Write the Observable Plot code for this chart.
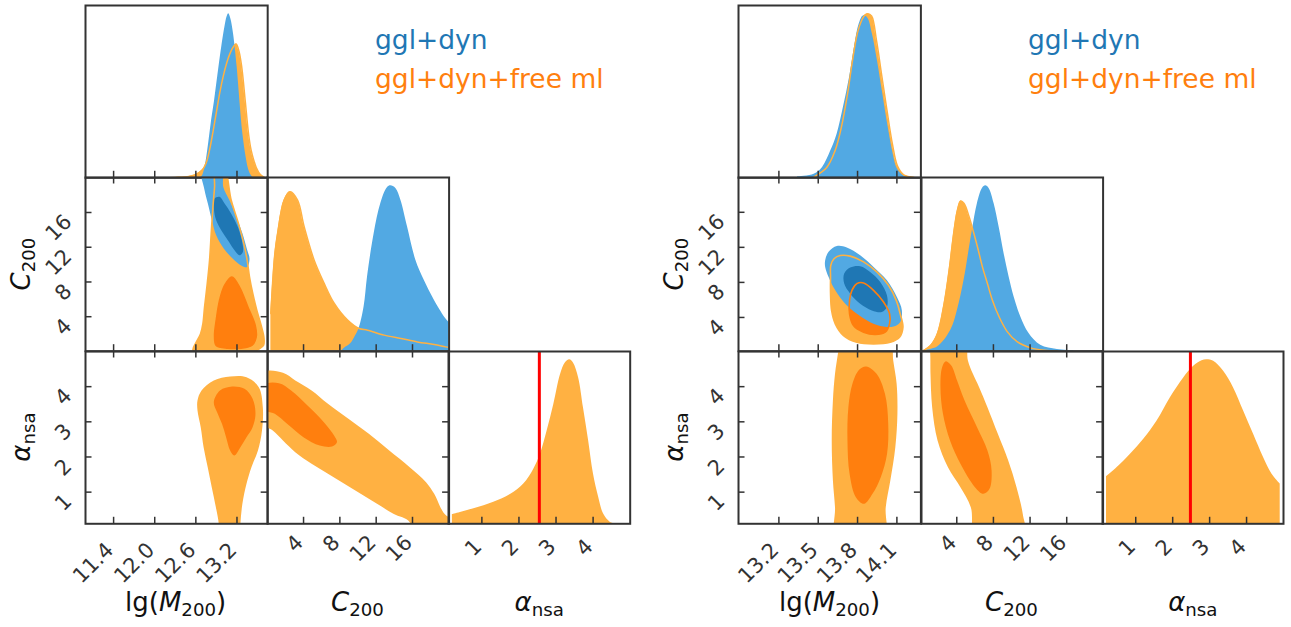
<!DOCTYPE html>
<html><head><meta charset="utf-8">
<script src="https://cdn.jsdelivr.net/npm/d3@7"></script>
<script src="https://cdn.jsdelivr.net/npm/@observablehq/plot@0.6"></script>
<style>
body{margin:0;background:#fff;font-family:"DejaVu Sans",sans-serif}
#root{position:relative;width:1291px;height:627px;overflow:hidden;background:#fff}
.panel{position:absolute}
.lbl{position:absolute;white-space:nowrap;font-size:26px;line-height:1;color:#111}
.lbl sub{font-size:70%;vertical-align:-0.28em;line-height:0}
.leg{position:absolute;white-space:nowrap;font-size:26.5px;line-height:1}
</style></head><body><div id="root"></div>
<script>
// ---------------- tick values ----------------
const L_lgmTicks = [11.4, 12.0, 12.6, 13.2];
const R_lgmTicks = [13.2, 13.5, 13.8, 14.1];
const cTicks = [4, 8, 12, 16];
const aTicks = [1, 2, 3, 4];
const L_alphaTrue = [2.55];
const R_alphaTrue = [2.48];
const legendLabels = ["ggl+dyn", "ggl+dyn+free ml"];

// ---------------- LEFT corner: 1D marginals ----------------
const L_lgm_blue = [[12.66,0],[12.693,0.01],[12.72,0.04],[12.751,0.104],[12.79,0.22],[12.83,0.35],[12.873,0.47],[12.92,0.62],[12.97,0.775],[13.0,0.86],[13.028,0.928],[13.055,0.98],[13.08,1.0],[13.11,0.97],[13.15,0.877],[13.203,0.673],[13.242,0.47],[13.286,0.267],[13.334,0.124],[13.37,0.05],[13.397,0.022],[13.43,0.003]];
const L_lgm_orange = [[12.10,0],[12.30,0.002],[12.50,0.008],[12.60,0.02],[12.70,0.05],[12.75,0.09],[12.80,0.17],[12.85,0.28],[12.90,0.40],[12.95,0.52],[13.00,0.62],[13.05,0.70],[13.10,0.76],[13.15,0.80],[13.188,0.816],[13.23,0.77],[13.27,0.673],[13.32,0.47],[13.369,0.267],[13.408,0.165],[13.45,0.10],[13.481,0.063],[13.54,0.02],[13.60,0.002]];
const L_c_blue = [[8.2,0],[8.47,0.016],[9.21,0.046],[9.7,0.09],[10.12,0.137],[10.67,0.268],[11.05,0.45],[11.78,0.712],[12.51,0.893],[13.25,0.99],[13.61,1.0],[14.17,0.984],[14.72,0.913],[15.45,0.752],[16.37,0.55],[17.28,0.43],[18.39,0.31],[19.78,0.188],[20.3,0.16]];
const L_c_orange = [[0.40,0.228],[0.59,0.41],[0.84,0.59],[1.14,0.712],[1.86,0.913],[2.52,0.964],[3.34,0.913],[4.07,0.752],[5.17,0.55],[6.27,0.41],[7.37,0.29],[8.85,0.188],[10.12,0.137],[11.05,0.127],[12.88,0.097],[14.72,0.077],[16.55,0.056],[18.39,0.04],[19.67,0.026],[20.3,0.02]];
const L_a_orange = [[0.204,0.055],[0.785,0.091],[1.32,0.131],[1.77,0.178],[2.13,0.242],[2.40,0.333],[2.58,0.424],[2.76,0.565],[2.94,0.727],[3.12,0.909],[3.25,0.98],[3.37,1.0],[3.47,0.98],[3.61,0.889],[3.74,0.707],[3.88,0.505],[4.01,0.303],[4.15,0.161],[4.28,0.061],[4.46,0.01],[4.59,0]];

// ---------------- LEFT corner: 2D contours ----------------
const L_lc_o95 = [[12.885,21.5],[13.0,21.5],[13.116,17.41],[13.222,14.72],[13.300,12.41],[13.349,10.49],[13.383,8.57],[13.431,6.65],[13.49,4.72],[13.553,2.99],[13.592,1.65],[13.587,0.69],[13.504,0.19],[13.45,-0.5],[12.6,-0.5],[12.557,0.19],[12.606,1.07],[12.669,2.03],[12.703,3.19],[12.727,5.11],[12.766,7.79],[12.8,10.49],[12.824,13.57],[12.849,16.64],[12.873,18.95]];
const L_lc_o68 = [[13.125,8.57],[13.237,7.41],[13.359,5.11],[13.466,2.99],[13.48,1.65],[13.417,0.69],[13.261,0.38],[13.067,0.38],[12.897,0.69],[12.873,1.84],[12.897,3.57],[12.946,5.88],[13.019,7.61]];
const L_lc_b95 = [[12.678,21.5],[12.98,21.5],[13.0,18.95],[13.09,17.41],[13.19,15.49],[13.28,13.57],[13.35,11.64],[13.383,10.68],[13.349,9.72],[13.261,9.91],[13.14,10.68],[13.009,11.83],[12.897,13.37],[12.834,15.1],[12.775,17.03],[12.727,18.57]];
const L_lc_b68 = [[12.873,17.6],[12.946,17.8],[13.019,17.03],[13.116,15.87],[13.213,14.33],[13.271,12.8],[13.286,11.45],[13.237,11.07],[13.164,11.64],[13.067,12.8],[12.97,13.95],[12.897,15.1],[12.863,16.45]];
const L_la_o95 = [[12.624,3.607],[12.683,3.891],[12.862,4.175],[13.1,4.289],[13.339,4.27],[13.518,3.986],[13.577,3.417],[13.565,2.753],[13.506,2.185],[13.411,1.71],[13.339,1.237],[13.279,0.668],[13.25,0.099],[13.244,-0.4],[12.934,-0.4],[12.934,0.099],[12.892,0.573],[12.832,1.142],[12.773,1.71],[12.713,2.28],[12.671,2.848],[12.624,3.322]];
const L_la_o68 = [[12.862,3.559],[12.952,3.891],[13.13,4.005],[13.309,3.938],[13.428,3.654],[13.47,3.227],[13.428,2.848],[13.339,2.564],[13.25,2.28],[13.16,2.042],[13.1,2.185],[13.041,2.564],[12.981,2.943],[12.91,3.275]];
const L_ca_o95 = [[-0.5,4.393],[1.733,4.393],[3.084,4.175],[4.885,3.891],[6.687,3.512],[8.939,3.085],[11.19,2.659],[13.44,2.185],[15.69,1.71],[17.49,1.284],[18.39,0.952],[19.07,0.573],[19.52,0.383],[20.3,0.19],[20.3,-0.4],[15.92,-0.4],[15.69,0.146],[13.89,0.383],[12.09,0.668],[10.29,0.952],[8.488,1.237],[6.687,1.521],[4.885,1.806],[3.084,2.137],[1.733,2.469],[0.608,2.753],[-0.5,2.943]];
const L_ca_o68 = [[-0.5,4.033],[1.283,4.099],[2.634,3.891],[4.435,3.464],[6.236,2.99],[7.362,2.611],[7.677,2.422],[7.137,2.298],[5.786,2.327],[3.985,2.564],[2.184,2.943],[0.833,3.227],[-0.5,3.37]];

// ---------------- RIGHT corner: 1D marginals ----------------
const R_lgm_blue = [[13.343,0.006],[13.469,0.022],[13.533,0.063],[13.596,0.164],[13.644,0.266],[13.692,0.428],[13.739,0.611],[13.78,0.813],[13.812,0.935],[13.844,0.986],[13.876,0.976],[13.914,0.874],[13.952,0.712],[13.993,0.509],[14.034,0.306],[14.072,0.144],[14.104,0.053],[14.152,0.012],[14.215,0.002]];
const R_lgm_orange = [[13.469,0.006],[13.565,0.063],[13.628,0.164],[13.676,0.306],[13.723,0.509],[13.761,0.712],[13.803,0.895],[13.85,0.986],[13.876,1.0],[13.907,0.986],[13.945,0.834],[13.983,0.631],[14.025,0.408],[14.066,0.205],[14.104,0.073],[14.152,0.018],[14.231,0.002]];
const R_c_blue = [[0.438,0.006],[1.892,0.026],[3.346,0.127],[4.073,0.248],[4.8,0.43],[5.345,0.611],[5.71,0.732],[6.255,0.893],[6.8,0.984],[7.162,1.0],[7.526,0.984],[8.071,0.893],[8.616,0.752],[9.162,0.591],[9.707,0.45],[10.252,0.329],[10.979,0.208],[11.888,0.107],[13.16,0.036],[14.977,0.01],[16.79,0.002]];
const R_c_orange = [[0.256,0.0],[1.165,0.036],[1.892,0.107],[2.619,0.288],[3.164,0.49],[3.709,0.732],[4.073,0.853],[4.436,0.908],[4.8,0.893],[5.345,0.813],[5.817,0.722],[6.255,0.631],[6.8,0.51],[7.344,0.409],[7.889,0.308],[8.616,0.208],[9.525,0.117],[10.616,0.056],[12.07,0.02],[13.524,0.006],[14.977,0.002]];
const R_a_orange = [[0.208,0.287],[0.497,0.343],[0.857,0.424],[1.217,0.515],[1.578,0.626],[1.938,0.768],[2.298,0.889],[2.569,0.96],[2.794,0.994],[2.929,1.0],[3.109,0.99],[3.379,0.929],[3.649,0.828],[3.92,0.687],[4.19,0.545],[4.46,0.404],[4.686,0.303],[4.911,0.242]];

// ---------------- RIGHT corner: 2D contours ----------------
const R_lc_o95 = [[13.596,9.963],[13.622,10.727],[13.668,11.071],[13.744,10.995],[13.846,10.345],[13.947,9.198],[14.036,7.669],[14.095,5.948],[14.125,4.419],[14.146,2.89],[14.12,1.743],[14.049,1.17],[13.922,0.979],[13.795,1.17],[13.693,1.934],[13.63,3.272],[13.602,4.801],[13.594,6.713],[13.594,8.624]];
const R_lc_o68 = [[13.757,7.095],[13.795,7.86],[13.846,7.936],[13.922,7.095],[13.998,5.757],[14.044,4.419],[14.044,3.272],[14.011,2.316],[13.935,2.048],[13.846,2.316],[13.769,3.081],[13.739,4.419],[13.739,5.948]];
const R_lc_b95 = [[13.553,10.536],[13.579,11.49],[13.642,12.141],[13.718,11.988],[13.82,11.109],[13.922,9.771],[14.024,8.242],[14.1,6.33],[14.138,4.801],[14.125,3.463],[14.074,2.966],[13.998,2.966],[13.896,3.463],[13.795,4.419],[13.706,5.566],[13.63,7.095],[13.579,8.624],[13.553,9.771]];
const R_lc_b68 = [[13.698,9.006],[13.744,9.694],[13.82,9.848],[13.896,9.198],[13.973,8.051],[14.024,6.522],[14.024,5.184],[13.985,4.61],[13.909,4.801],[13.82,5.566],[13.744,6.713],[13.698,7.86]];
const R_la_o95 = [[13.676,5.6],[13.653,5.01],[13.628,4.365],[13.612,3.607],[13.603,2.469],[13.612,1.332],[13.628,0.573],[13.638,-0.4],[14.003,-0.4],[14.015,0.573],[14.05,1.332],[14.088,2.28],[14.104,3.227],[14.098,4.081],[14.072,4.744],[14.04,5.6]];
const R_la_o68 = [[13.866,4.574],[13.945,4.365],[14.009,3.796],[14.034,2.943],[14.025,2.09],[13.977,1.426],[13.914,0.952],[13.85,0.668],[13.787,0.857],[13.739,1.521],[13.723,2.469],[13.73,3.417],[13.761,4.081],[13.812,4.479]];
const R_ca_o95 = [[0.767,5.6],[1.085,5.01],[1.13,4.365],[1.312,3.417],[1.902,2.469],[3.036,1.71],[4.397,1.142],[5.531,0.573],[6.121,-0.4],[11.43,-0.4],[11.2,0.383],[10.52,1.142],[9.614,1.9],[8.48,2.659],[7.346,3.417],[6.438,3.985],[5.758,4.365],[5.214,4.744],[4.76,5.6]];
const R_ca_o68 = [[2.808,4.725],[3.398,4.602],[4.033,4.175],[4.85,3.607],[6.211,2.848],[7.346,2.185],[7.799,1.616],[7.573,1.094],[6.893,0.952],[5.985,1.142],[4.397,1.806],[3.263,2.469],[2.491,3.227],[2.219,3.985],[2.4,4.555]];

// ---------------- styling & layout ----------------
const LO = "#ffb142", DO = "#ff7f0e", LB = "#52a9e3", DB = "#1f77b4", AX = "#333";
const ROWS = [5, 177.3, 351, 523.3];
const TL = 6.5;
const TFS = 21;
const DIAG_DOM = [0, 1.05];
const root = document.getElementById("root");

function panel(left, top, width, height, xd, yd, marks) {
  const p = Plot.plot({
    width, height, margin: 0,
    x: {domain: xd, axis: null}, y: {domain: yd, axis: null},
    style: {overflow: "visible", background: "transparent", fontFamily: "DejaVu Sans"},
    marks
  });
  const d = document.createElement("div");
  d.className = "panel"; d.style.left = left + "px"; d.style.top = top + "px";
  d.appendChild(p); root.appendChild(d);
}
const X = d => d[0], Y = d => d[1];
const poly = (data, fill) => Plot.line(data, {x: X, y: Y, curve: "catmull-rom-closed", fill, stroke: "none", clip: true});
const outline = (data, stroke) => Plot.line(data, {x: X, y: Y, curve: "catmull-rom-closed", stroke, strokeWidth: 1.6, clip: true});
const dens = (data, fill) => Plot.areaY(data, {x: X, y: Y, fill, curve: "catmull-rom", clip: true});
const densLine = (data, stroke) => Plot.line(data, {x: X, y: Y, stroke, strokeWidth: 1.5, curve: "catmull-rom", clip: true});
const frame = () => Plot.frame({stroke: AX, strokeWidth: 2});
const tb = (t, h) => Plot.tickX(t, {x: d => d, stroke: AX, strokeWidth: 1.5, insetTop: h - TL});
const tt = (t, h) => Plot.tickX(t, {x: d => d, stroke: AX, strokeWidth: 1.5, insetBottom: h - TL});
const tl = (t, w) => Plot.tickY(t, {y: d => d, stroke: AX, strokeWidth: 1.5, insetRight: w - TL});
const tr = (t, w) => Plot.tickY(t, {y: d => d, stroke: AX, strokeWidth: 1.5, insetLeft: w - TL});
const xLab = (t, dy, fmt) => Plot.text(t, {x: d => d, text: fmt, frameAnchor: "bottom", dx: 1, dy, rotate: -45, textAnchor: "end", lineAnchor: "bottom", fontSize: TFS, fill: AX});
const yLab = (t) => Plot.text(t, {y: d => d, text: d => String(d), frameAnchor: "left", dx: -12.5, dy: 10.5, rotate: -45, textAnchor: "end", lineAnchor: "bottom", fontSize: TFS, fill: AX});

function corner(c) {
  const W = i => c.cols[i + 1] - c.cols[i], H = i => ROWS[i + 1] - ROWS[i];
  const f1 = d => d.toFixed(1), f0 = d => String(d);
  panel(c.cols[0], ROWS[0], W(0), H(0), c.lgmDom, DIAG_DOM, [
    dens(c.lgmO, LO), dens(c.lgmB, LB), densLine(c.lgmO, LO), frame(), tb(c.lgmTicks, H(0))]);
  panel(c.cols[0], ROWS[1], W(0), H(1), c.lgmDom, c.cDom, [
    poly(c.lc[0], LO), poly(c.lc[1], DO), poly(c.lc[2], LB), poly(c.lc[3], DB),
    outline(c.lc[0], LO), outline(c.lc[1], DO), frame(),
    tb(c.lgmTicks, H(1)), tt(c.lgmTicks, H(1)), tl(cTicks, W(0)), tr(cTicks, W(0)), yLab(cTicks)]);
  panel(c.cols[1], ROWS[1], W(1), H(1), c.cDom, DIAG_DOM, [
    dens(c.cO, LO), dens(c.cB, LB), densLine(c.cO, LO), frame(), tb(cTicks, H(1))]);
  panel(c.cols[0], ROWS[2], W(0), H(2), c.lgmDom, c.aDom, [
    poly(c.la[0], LO), poly(c.la[1], DO), frame(),
    tb(c.lgmTicks, H(2)), tt(c.lgmTicks, H(2)), tl(aTicks, W(0)), tr(aTicks, W(0)),
    yLab(aTicks), xLab(c.lgmTicks, 27.5, f1)]);
  panel(c.cols[1], ROWS[2], W(1), H(2), c.cDom, c.aDom, [
    poly(c.ca[0], LO), poly(c.ca[1], DO), frame(),
    tb(cTicks, H(2)), tt(cTicks, H(2)), tr(aTicks, W(1)), xLab(cTicks, 20, f0)]);
  panel(c.cols[2], ROWS[2], W(2), H(2), c.aDom, DIAG_DOM, [
    dens(c.aO, LO), Plot.ruleX(c.aTrue, {stroke: "#ff0000", strokeWidth: 3}), frame(),
    tb(aTicks, H(2)), xLab(aTicks, 24, f0)]);
}

corner({cols: [84.5, 266.7, 448.3, 630], lgmDom: [10.99, 13.648], cDom: [0.03, 20.03], aDom: [0.1, 5.0],
  lgmTicks: L_lgmTicks, lgmB: L_lgm_blue, lgmO: L_lgm_orange, cB: L_c_blue, cO: L_c_orange, aO: L_a_orange,
  lc: [L_lc_o95, L_lc_o68, L_lc_b95, L_lc_b68], la: [L_la_o95, L_la_o68], ca: [L_ca_o95, L_ca_o68], aTrue: L_alphaTrue});
corner({cols: [738.3, 920.7, 1102.3, 1283.3], lgmDom: [12.892, 14.283], cDom: [0.15, 19.97], aDom: [0.1, 5.0],
  lgmTicks: R_lgmTicks, lgmB: R_lgm_blue, lgmO: R_lgm_orange, cB: R_c_blue, cO: R_c_orange, aO: R_a_orange,
  lc: [R_lc_o95, R_lc_o68, R_lc_b95, R_lc_b68], la: [R_la_o95, R_la_o68], ca: [R_ca_o95, R_ca_o68], aTrue: R_alphaTrue});

// ---------------- axis labels & legends (HTML text) ----------------
const LBL_LGM = 'lg(<i>M</i><sub>200</sub>)', LBL_C = '<i>C</i><sub>200</sub>', LBL_A = '<i>α</i><sub>nsa</sub>';
function addLabel(html, x, y, rot) {
  const d = document.createElement("div");
  d.className = "lbl"; d.innerHTML = html;
  d.style.left = x + "px"; d.style.top = y + "px";
  d.style.transform = rot ? "translate(-50%,-50%) rotate(-90deg)" : "translateX(-50%)";
  root.appendChild(d);
}
[[175.6, 829.5], [357.5, 1011.5], [539.2, 1192.8]].forEach((xs, i) => {
  const h = [LBL_LGM, LBL_C, LBL_A][i];
  xs.forEach(x => addLabel(h, x, 589, false));
});
[20.5, 674.3].forEach(x => { addLabel(LBL_C, x, 264.2, true); addLabel(LBL_A, x, 437.2, true); });
function addLegend(x) {
  [[legendLabels[0], DB, 26.6], [legendLabels[1], DO, 65.6]].forEach(([t, col, y]) => {
    const d = document.createElement("div");
    d.className = "leg"; d.textContent = t; d.style.color = col;
    d.style.left = x + "px"; d.style.top = y + "px";
    root.appendChild(d);
  });
}
addLegend(375); addLegend(1028);
</script></body></html>
